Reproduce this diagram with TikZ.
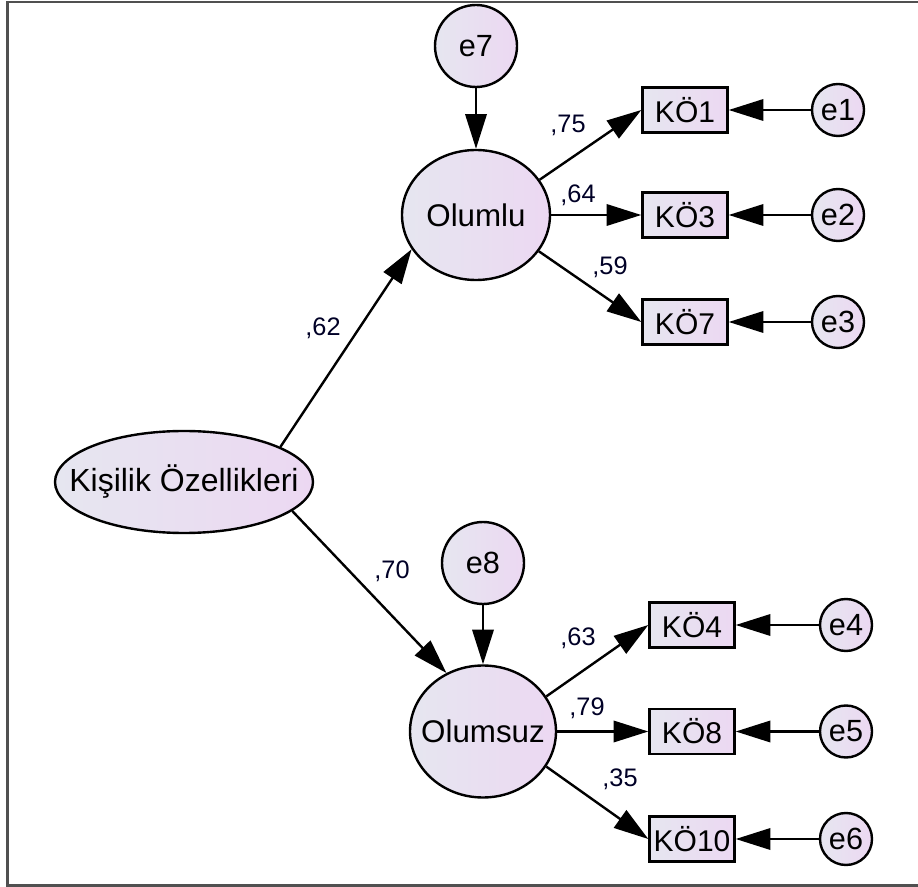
\documentclass[tikz,border=0pt]{standalone}
\usepackage{fontspec}
\setmainfont{Liberation Sans}
\usetikzlibrary{shapes.geometric,arrows.meta}
\definecolor{fillL}{RGB}{230,230,240}
\definecolor{fillR}{RGB}{236,216,242}
\definecolor{framegray}{RGB}{80,80,80}
\tikzset{
  base/.style={draw=black, line width=1.8pt, left color=fillL, right color=fillR, inner sep=0pt, font=\fontsize{23}{26}\selectfont},
  latent/.style={base, ellipse},
  errc/.style={base, circle, minimum size=#1},
  obs/.style={base, rectangle, minimum width=63.75pt, minimum height=33.75pt, font=\fontsize{22.5}{26}\selectfont},
  path/.style={draw=black, line width=1.8pt, -{Triangle[length=26pt,width=16pt]}},
  coef/.style={font=\fontsize{19}{22}\selectfont, text=black!85!blue, inner sep=0pt}
}
\begin{document}
\begin{tikzpicture}[x=0.75pt,y=-0.75pt]
\useasboundingbox (0,0) rectangle (918,887);
\draw[framegray, line width=1.9pt] (918,2) -- (7.5,2) -- (7.5,885.5) -- (918,885.5);

% latent variables
\node[latent, minimum width=193.5pt, minimum height=76.5pt, font=\fontsize{24}{28}\selectfont] (kis) at (184,482) {\makebox[0pt]{Kişilik Özellikleri}};
\node[latent, minimum width=111pt, minimum height=97.5pt, font=\fontsize{23.5}{28}\selectfont] (olu) at (476,215) {\makebox[0pt]{Olumlu}};
\node[latent, minimum width=109.5pt, minimum height=99pt, font=\fontsize{23.5}{28}\selectfont] (ols) at (483,731.5) {\makebox[0pt]{Olumsuz}};

% disturbance terms
\node[errc=61.5pt] (e7) at (476,46) {e7};
\node[errc=61.5pt] (e8) at (483,563) {e8};

% observed variables
\node[obs] (k1) at (685,110) {KÖ1};
\node[obs] (k3) at (685,215) {KÖ3};
\node[obs] (k7) at (685,322) {KÖ7};
\node[obs] (k4) at (692,625) {KÖ4};
\node[obs] (k8) at (692,731.5) {KÖ8};
\node[obs] (k10) at (692,839) {\makebox[0pt]{KÖ10}};

% error terms
\node[errc=39pt] (e1) at (838,110) {e1};
\node[errc=39pt] (e2) at (838,215) {e2};
\node[errc=39pt] (e3) at (838,322) {e3};
\node[errc=39pt] (e4) at (846,625) {e4};
\node[errc=39pt] (e5) at (846,731.5) {e5};
\node[errc=39pt] (e6) at (846,839) {e6};

% structural paths
\draw[path] (kis.20) -- (olu.208);
\draw[path] (kis.-15) -- (ols.122);
\draw[path] (e7.south) -- (olu.north);
\draw[path] (e8.south) -- (ols.north);

% loadings
\draw[path] (olu.29) -- (k1.west);
\draw[path] (olu.east) -- (k3.west);
\draw[path] (olu.-30) -- (k7.west);
\draw[path] (ols.29) -- (k4.west);
\draw[path] (ols.east) -- (k8.west);
\draw[path] (ols.-29) -- (k10.west);

% errors to indicators
\draw[path] (e1.west) -- (k1.east);
\draw[path] (e2.west) -- (k3.east);
\draw[path] (e3.west) -- (k7.east);
\draw[path] (e4.west) -- (k4.east);
\draw[path] (e5.west) -- (k8.east);
\draw[path] (e6.west) -- (k10.east);

% coefficients
\node[coef] (c62) at (323,328) {,62};
\node[coef] (c70) at (392,571) {,70};
\node[coef] (c75) at (568,125) {,75};
\node[coef] (c64) at (578,195) {,64};
\node[coef] (c59) at (610,267) {,59};
\node[coef] (c63) at (578,638) {,63};
\node[coef] (c79) at (587,708) {,79};
\node[coef] (c35) at (620,779) {,35};
\end{tikzpicture}
\end{document}
